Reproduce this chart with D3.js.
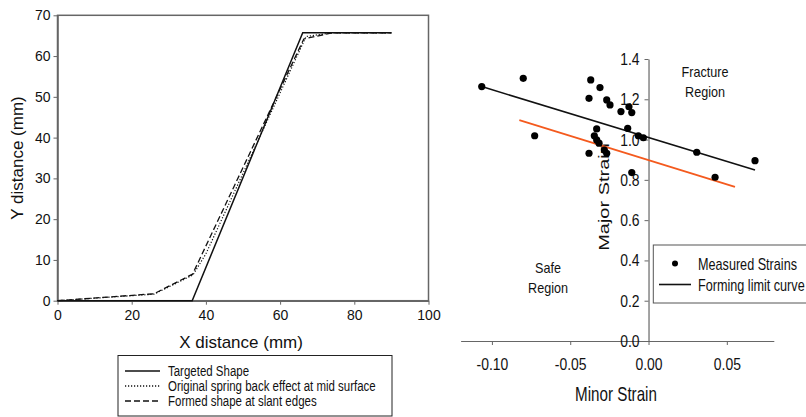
<!DOCTYPE html>
<html>
<head>
<meta charset="utf-8">
<script src="https://cdn.jsdelivr.net/npm/d3@7"></script>
<style>
  body { margin: 0; background: #fff; }
  text { font-family: "Liberation Sans", Arial, sans-serif; fill: #111; }
</style>
</head>
<body>
<div class="container"></div>
<script>
//=================================================
// Data - left panel (spring back profiles)
//=================================================
const leftXTicks = [0, 20, 40, 60, 80, 100];
const leftYTicks = [0, 10, 20, 30, 40, 50, 60, 70];

const targetedX = [0, 36.3, 66.1, 90];
const targetedY = [0, 0, 65.7, 65.7];

const springX = [0, 26, 36.5, 40, 67, 74, 90];
const springY = [0, 1.6, 6.3, 11.5, 64.8, 65.7, 65.7];

const formedX = [0, 26, 36.4, 66.4, 74, 90];
const formedY = [0, 1.7, 6.5, 64.2, 65.7, 65.7];

const leftLegend = ["Targeted Shape", "Original spring back effect at mid surface", "Formed shape at slant edges"];

//=================================================
// Data - right panel (forming limit diagram)
//=================================================
const minorStrain = [-0.1065, -0.0800, -0.0727, -0.0369, -0.0310, -0.0380, -0.0267, -0.0246,
  -0.0176, -0.0125, -0.0107, -0.0133, -0.0065, -0.0033, -0.0331, -0.0346, -0.0331, -0.0316,
  -0.0282, -0.0267, -0.0380, -0.0107, 0.0308, 0.0425, 0.0680];
const majorStrain = [1.263, 1.304, 1.019, 1.296, 1.258, 1.205, 1.197, 1.172,
  1.139, 1.163, 1.134, 1.056, 1.019, 1.009, 1.053, 1.019, 0.998, 0.982,
  0.948, 0.932, 0.932, 0.836, 0.937, 0.813, 0.895];

const flcX = [-0.1065, 0.068];
const flcY = [1.263, 0.849];
const safeX = [-0.0825, 0.0552];
const safeY = [1.096, 0.765];

const rightXTicks = [-0.10, -0.05, 0.00, 0.05];
const rightYTicks = [0, 0.2, 0.4, 0.6, 0.8, 1.0, 1.2, 1.4];

//=================================================
// SVG
//=================================================
const width = 806, height = 417;
const svg = d3.select(".container").append("svg")
  .attr("width", width).attr("height", height);

const axisColor = "#666";

// condensed text: the right figure is squeezed horizontally on screen
function narrowText(g, x, y, str, size, anchor, k) {
  return g.append("text")
    .attr("transform", "translate(" + x + "," + y + ") scale(" + k + ",1)")
    .attr("text-anchor", anchor || "start")
    .attr("font-size", size)
    .text(str);
}

function narrowTicks(g, size, k) {
  g.selectAll(".tick text").each(function () {
    const t = d3.select(this);
    const x = +t.attr("x") || 0;
    t.attr("x", x / k).attr("transform", "scale(" + k + ",1)")
      .attr("font-size", size).attr("fill", "#222");
  });
}

//=================================================
// Left panel
//=================================================
const xL = d3.scaleLinear().domain([0, 100]).range([57.5, 428.5]);
const yL = d3.scaleLinear().domain([0, 70]).range([300.7, 15.3]);

// frame
svg.append("rect")
  .attr("x", xL(0)).attr("y", yL(70))
  .attr("width", xL(100) - xL(0)).attr("height", yL(0) - yL(70))
  .attr("fill", "none").attr("stroke", axisColor).attr("stroke-width", 1.5);

const gxL = svg.append("g")
  .attr("transform", "translate(0," + yL(0) + ")")
  .call(d3.axisBottom(xL).tickValues(leftXTicks).tickSize(4).tickPadding(5).tickSizeOuter(0));
const gyL = svg.append("g")
  .attr("transform", "translate(" + xL(0) + ",0)")
  .call(d3.axisLeft(yL).tickValues(leftYTicks).tickSize(4).tickPadding(3).tickSizeOuter(0));
[gxL, gyL].forEach(g => {
  g.select(".domain").attr("stroke", axisColor).attr("stroke-width", 1.5);
  g.selectAll(".tick line").attr("stroke", axisColor);
  g.selectAll(".tick text").attr("font-size", 14).attr("font-family", "Liberation Sans, Arial, sans-serif").attr("fill", "#111");
});

const lineL = d3.line().x(d => xL(d[0])).y(d => yL(d[1]));

svg.append("path")
  .datum(d3.zip(formedX, formedY))
  .attr("d", lineL).attr("fill", "none").attr("stroke", "#111")
  .attr("stroke-width", 1.3).attr("stroke-dasharray", "6,3");
svg.append("path")
  .datum(d3.zip(springX, springY))
  .attr("d", lineL).attr("fill", "none").attr("stroke", "#111")
  .attr("stroke-width", 1.2).attr("stroke-dasharray", "1.2,1.8");
svg.append("path")
  .datum(d3.zip(targetedX, targetedY))
  .attr("d", lineL).attr("fill", "none").attr("stroke", "#111")
  .attr("stroke-width", 1.5);

// axis titles
svg.append("text")
  .attr("x", 241).attr("y", 348)
  .attr("text-anchor", "middle").attr("font-size", 17)
  .text("X distance (mm)");
svg.append("text")
  .attr("transform", "translate(23,158) rotate(-90)")
  .attr("text-anchor", "middle").attr("font-size", 17)
  .text("Y distance (mm)");

// legend
const legL = svg.append("g");
legL.append("rect")
  .attr("x", 118).attr("y", 355.5).attr("width", 274).attr("height", 60.5)
  .attr("fill", "#fff").attr("stroke", "#222").attr("stroke-width", 1);
const dashes = [null, "1.2,1.8", "6,3"];
leftLegend.forEach((t, i) => {
  const yy = 371 + i * 15;
  legL.append("line")
    .attr("x1", 125).attr("x2", 160).attr("y1", yy).attr("y2", yy)
    .attr("stroke", "#111").attr("stroke-width", 1.3)
    .attr("stroke-dasharray", dashes[i]);
  narrowText(legL, 168, yy + 4.5, t, 14, "start", 0.82);
});

//=================================================
// Right panel
//=================================================
const xR = d3.scaleLinear().domain([-0.12, 0.08]).range([460.6, 773.8]);
const yR = d3.scaleLinear().domain([0, 1.4]).range([341, 59]);

const gxR = svg.append("g")
  .attr("transform", "translate(0," + yR(0) + ")")
  .call(d3.axisBottom(xR).tickValues(rightXTicks).tickSize(4).tickPadding(13)
    .tickSizeOuter(0).tickFormat(d => d.toFixed(2)));
const gyR = svg.append("g")
  .attr("transform", "translate(" + xR(0) + ",0)")
  .call(d3.axisLeft(yR).tickValues(rightYTicks).tickSize(4).tickPadding(5)
    .tickSizeOuter(0).tickFormat(d => d.toFixed(1)));
[gxR, gyR].forEach(g => {
  g.select(".domain").attr("stroke", axisColor).attr("stroke-width", 1.2);
  g.selectAll(".tick line").attr("stroke", axisColor);
  narrowTicks(g, 17, 0.82);
});

// axis titles
narrowText(svg, 616, 401, "Minor Strain", 20, "middle", 0.76);
svg.append("text")
  .attr("transform", "translate(609,197) rotate(-90) scale(1,0.76)")
  .attr("text-anchor", "middle").attr("font-size", 20)
  .text("Major Strain");

// region labels
narrowText(svg, 705, 77, "Fracture", 14, "middle", 0.9);
narrowText(svg, 705, 97, "Region", 14, "middle", 0.9);
narrowText(svg, 548, 273, "Safe", 14, "middle", 0.9);
narrowText(svg, 548, 293, "Region", 14, "middle", 0.9);

const lineR = d3.line().x(d => xR(d[0])).y(d => yR(d[1]));

svg.append("path")
  .datum(d3.zip(safeX, safeY))
  .attr("d", lineR).attr("fill", "none").attr("stroke", "#f45a1e").attr("stroke-width", 1.8);
svg.append("path")
  .datum(d3.zip(flcX, flcY))
  .attr("d", lineR).attr("fill", "none").attr("stroke", "#111").attr("stroke-width", 1.6);

svg.selectAll("circle.pt")
  .data(d3.zip(minorStrain, majorStrain))
  .enter().append("circle")
  .attr("class", "pt")
  .attr("cx", d => xR(d[0])).attr("cy", d => yR(d[1]))
  .attr("r", 3.6).attr("fill", "#000");

// legend
const legR = svg.append("g");
legR.append("rect")
  .attr("x", 653.3).attr("y", 245).attr("width", 200).attr("height", 58)
  .attr("fill", "#fff").attr("stroke", "#555").attr("stroke-width", 1);
legR.append("circle").attr("cx", 675).attr("cy", 263.5).attr("r", 3).attr("fill", "#000");
legR.append("line").attr("x1", 659).attr("x2", 691).attr("y1", 284.5).attr("y2", 284.5)
  .attr("stroke", "#111").attr("stroke-width", 1.6);
narrowText(legR, 698, 269.5, "Measured Strains", 16, "start", 0.79);
narrowText(legR, 698, 290.5, "Forming limit curve", 16, "start", 0.79);
</script>
</body>
</html>
